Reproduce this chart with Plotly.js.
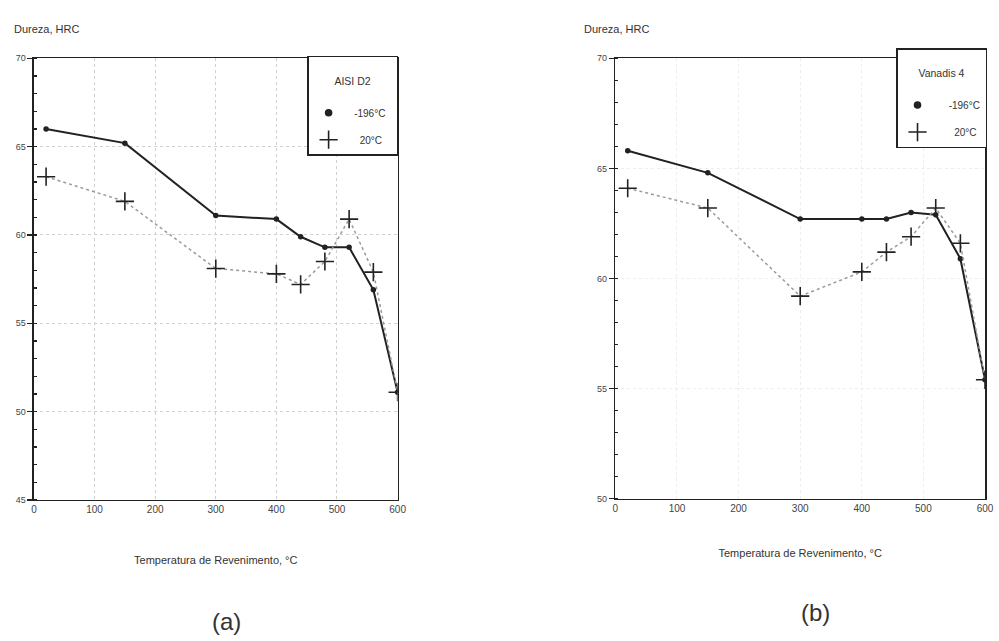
<!DOCTYPE html>
<html><head><meta charset="utf-8">
<script src="https://cdn.plot.ly/plotly-3.0.1.min.js"></script>
<style>body{margin:0;background:#fff}#c{width:999px;height:641px}</style>
</head><body><div id="c"></div>
<script>
// Temperatures (°C)
var temps = [20, 150, 300, 400, 440, 480, 520, 560, 600];
// (a) AISI D2
var d2_cryo = [66.0, 65.2, 61.1, 60.9, 59.9, 59.3, 59.3, 56.9, 51.1];
var d2_room = [63.3, 61.9, 58.1, 57.8, 57.2, 58.5, 60.9, 57.9, 51.1];
// (b) Vanadis 4
var v4_cryo = [65.8, 64.8, 62.7, 62.7, 62.7, 63.0, 62.9, 60.9, 55.4];
var v4_room = [64.1, 63.2, 59.2, 60.3, 61.2, 61.9, 63.2, 61.6, 55.4];
var seriesNames = ["-196°C", "20°C"];
var materials = ["AISI D2", "Vanadis 4"];
var xTicks = [0, 100, 200, 300, 400, 500, 600];

var font = "Liberation Sans, Arial, sans-serif";
var dark = "#222";

function cryo(x, y, xa, ya) {
  return {x: x, y: y, xaxis: xa, yaxis: ya, mode: "lines+markers", showlegend: false,
    line: {color: dark, width: 2}, marker: {symbol: "circle", size: 5.5, color: dark}};
}
function room(x, y, xa, ya) {
  return {x: x, y: y, xaxis: xa, yaxis: ya, mode: "lines+markers", showlegend: false,
    line: {color: "#9a9a9a", width: 1.5, dash: "dot"},
    marker: {symbol: "cross-thin-open", size: 13, color: dark, line: {color: dark, width: 1.6}}};
}
function legItem(name, sym, size, lg, grp, xa, ya) {
  return {x: [null], y: [null], xaxis: xa, yaxis: ya, mode: "markers", name: name, legend: lg,
    legendgroup: grp,
    marker: {symbol: sym, size: size, color: dark, line: {color: dark, width: 1.6}}};
}
var pad = "\u00a0\u00a0";
var data = [
  cryo(temps, d2_cryo, "x", "y"), room(temps, d2_room, "x", "y"),
  cryo(temps, v4_cryo, "x2", "y2"), room(temps, v4_room, "x2", "y2"),
  legItem(pad + seriesNames[0] + pad, "circle", 6, "legend", "a1", "x", "y"),
  legItem(pad + pad + seriesNames[1] + pad, "cross-thin-open", 13, "legend", "a2", "x", "y"),
  legItem(pad + pad + seriesNames[0], "circle", 6, "legend2", "b1", "x2", "y2"),
  legItem(pad + pad + pad + seriesNames[1], "cross-thin-open", 13, "legend2", "b2", "x2", "y2")
];

function xax(dom, anchor, gridc, standoff) {
  return {domain: dom, anchor: anchor, range: [0, 600], tickvals: xTicks, ticks: "",
    showline: true, linecolor: dark, linewidth: 1.5, mirror: true,
    showgrid: true, gridcolor: gridc, griddash: "dot", gridwidth: 1, zeroline: false,
    tickfont: {family: font, size: 10, color: "#444"},
    title: {text: "Temperatura de Revenimento, °C", font: {family: font, size: 11, color: "#333"}, standoff: standoff}};
}
function yax(dom, anchor, rng, tv, gridc) {
  return {domain: dom, anchor: anchor, range: rng, tickvals: tv, ticks: "outside", ticklen: 5,
    tickcolor: dark, tickwidth: 1.2,
    minor: {dtick: 1, ticks: "inside", ticklen: 3, tickcolor: dark, showgrid: false},
    showline: true, linecolor: dark, linewidth: 1.5, mirror: true,
    showgrid: true, gridcolor: gridc, griddash: "dot", gridwidth: 1, zeroline: false,
    tickfont: {family: font, size: 9, color: "#444"}};
}
function leg(x, y, title) {
  return {x: x, y: y, xanchor: "right", yanchor: "top", bgcolor: "#fff",
    bordercolor: dark, borderwidth: 1.5,
    font: {family: font, size: 10, color: "#333"},
    title: {text: "<br>" + title + "<br>", font: {family: font, size: 10.5, color: "#333"}, side: "top center"},
    itemwidth: 30, tracegroupgap: 8, traceorder: "grouped"};
}

var layout = {
  width: 999, height: 641, paper_bgcolor: "#fff", plot_bgcolor: "#fff",
  margin: {l: 0, r: 0, t: 0, b: 0},
  xaxis: xax([0.034, 0.398], "y", "#d0d0d0", 42),
  yaxis: yax([0.22, 0.909], "x", [45, 70], [45, 50, 55, 60, 65, 70], "#d0d0d0"),
  xaxis2: xax([0.616, 0.986], "y2", "#ededed", 36),
  yaxis2: yax([0.222, 0.909], "x2", [50, 70], [50, 55, 60, 65, 70], "#ededed"),
  legend: leg(0.3985, 0.913, materials[0]),
  legend2: leg(0.988, 0.925, materials[1]),
  annotations: [
    {text: "Dureza, HRC", xref: "paper", yref: "paper", x: 0.012, y: 0.955, xanchor: "left", yanchor: "middle", showarrow: false, font: {family: font, size: 11, color: "#333"}},
    {text: "Dureza, HRC", xref: "paper", yref: "paper", x: 0.583, y: 0.955, xanchor: "left", yanchor: "middle", showarrow: false, font: {family: font, size: 11, color: "#333"}},
    {text: "(a)", xref: "paper", yref: "paper", x: 0.227, y: 0.03, xanchor: "center", yanchor: "middle", showarrow: false, font: {family: font, size: 24, color: "#333"}},
    {text: "(b)", xref: "paper", yref: "paper", x: 0.816, y: 0.044, xanchor: "center", yanchor: "middle", showarrow: false, font: {family: font, size: 24, color: "#333"}}
  ]
};
Plotly.newPlot("c", data, layout, {staticPlot: true});
</script></body></html>
